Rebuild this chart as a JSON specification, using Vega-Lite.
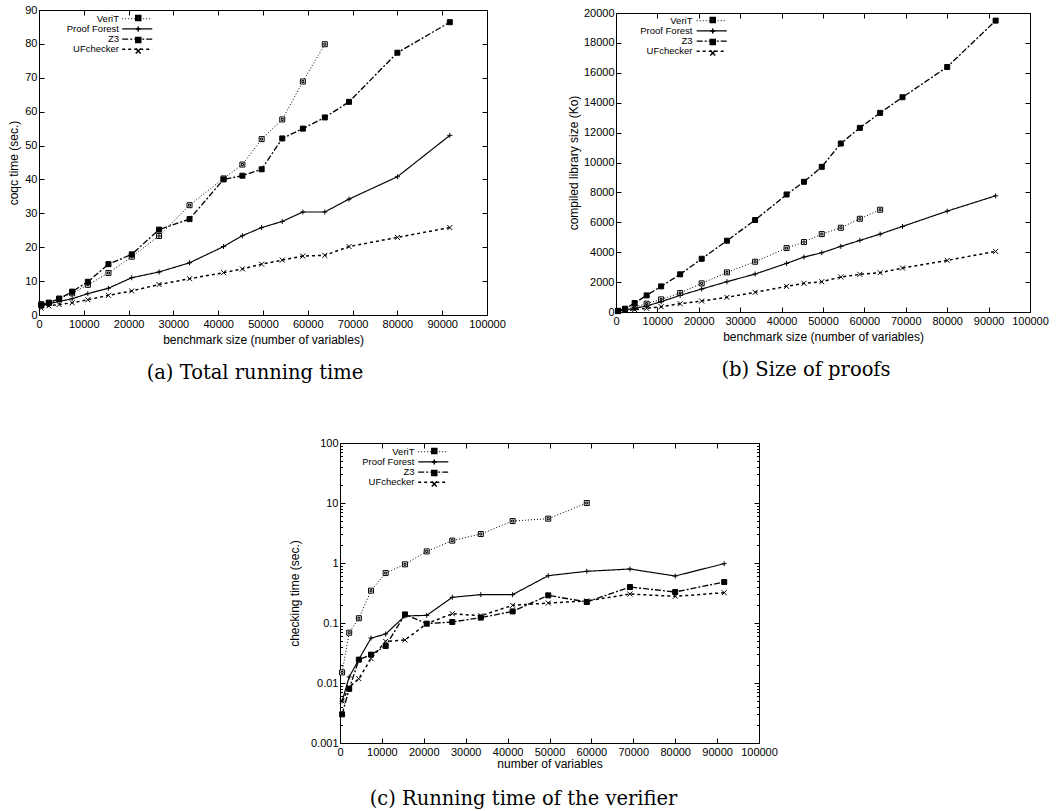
{
"$schema": "https://vega.github.io/schema/vega-lite/v6.json",
"padding": {"left": 7, "top": 3, "right": 0, "bottom": 0},
"background": "white",
"datasets": {
"coqc": [
{"solver":"VeriT","vars":500,"value":3.2},{"solver":"VeriT","vars":2200,"value":3.6},{"solver":"VeriT","vars":4500,"value":4.8},{"solver":"VeriT","vars":7400,"value":6.4},{"solver":"VeriT","vars":10900,"value":8.9},{"solver":"VeriT","vars":15500,"value":12.4},{"solver":"VeriT","vars":20700,"value":17.2},{"solver":"VeriT","vars":26800,"value":23.3},{"solver":"VeriT","vars":33600,"value":32.4},{"solver":"VeriT","vars":41200,"value":40.3},{"solver":"VeriT","vars":45400,"value":44.4},{"solver":"VeriT","vars":49700,"value":51.9},{"solver":"VeriT","vars":54300,"value":57.7},{"solver":"VeriT","vars":58900,"value":68.9},{"solver":"VeriT","vars":63800,"value":79.9},
{"solver":"Proof Forest","vars":500,"value":2.7},{"solver":"Proof Forest","vars":2200,"value":3.3},{"solver":"Proof Forest","vars":4500,"value":4.0},{"solver":"Proof Forest","vars":7400,"value":4.8},{"solver":"Proof Forest","vars":10900,"value":6.3},{"solver":"Proof Forest","vars":15500,"value":7.9},{"solver":"Proof Forest","vars":20700,"value":11.0},{"solver":"Proof Forest","vars":26800,"value":12.7},{"solver":"Proof Forest","vars":33600,"value":15.4},{"solver":"Proof Forest","vars":41200,"value":20.2},{"solver":"Proof Forest","vars":45400,"value":23.4},{"solver":"Proof Forest","vars":49700,"value":25.8},{"solver":"Proof Forest","vars":54300,"value":27.6},{"solver":"Proof Forest","vars":58900,"value":30.4},{"solver":"Proof Forest","vars":63800,"value":30.4},{"solver":"Proof Forest","vars":69200,"value":34.2},{"solver":"Proof Forest","vars":80000,"value":40.8},{"solver":"Proof Forest","vars":91700,"value":53.0},
{"solver":"Z3","vars":500,"value":2.9},{"solver":"Z3","vars":2200,"value":3.6},{"solver":"Z3","vars":4500,"value":4.8},{"solver":"Z3","vars":7400,"value":6.9},{"solver":"Z3","vars":10900,"value":9.8},{"solver":"Z3","vars":15500,"value":15.0},{"solver":"Z3","vars":20700,"value":17.9},{"solver":"Z3","vars":26800,"value":25.2},{"solver":"Z3","vars":33600,"value":28.3},{"solver":"Z3","vars":41200,"value":40.0},{"solver":"Z3","vars":45400,"value":41.1},{"solver":"Z3","vars":49700,"value":43.0},{"solver":"Z3","vars":54300,"value":52.1},{"solver":"Z3","vars":58900,"value":55.0},{"solver":"Z3","vars":63800,"value":58.3},{"solver":"Z3","vars":69200,"value":62.9},{"solver":"Z3","vars":80000,"value":77.4},{"solver":"Z3","vars":91700,"value":86.4},
{"solver":"UFchecker","vars":500,"value":2.0},{"solver":"UFchecker","vars":2200,"value":2.7},{"solver":"UFchecker","vars":4500,"value":3.1},{"solver":"UFchecker","vars":7400,"value":3.6},{"solver":"UFchecker","vars":10900,"value":4.5},{"solver":"UFchecker","vars":15500,"value":5.8},{"solver":"UFchecker","vars":20700,"value":7.1},{"solver":"UFchecker","vars":26800,"value":9.0},{"solver":"UFchecker","vars":33600,"value":10.7},{"solver":"UFchecker","vars":41200,"value":12.5},{"solver":"UFchecker","vars":45400,"value":13.6},{"solver":"UFchecker","vars":49700,"value":15.0},{"solver":"UFchecker","vars":54300,"value":16.2},{"solver":"UFchecker","vars":58900,"value":17.4},{"solver":"UFchecker","vars":63800,"value":17.6},{"solver":"UFchecker","vars":69200,"value":20.2},{"solver":"UFchecker","vars":80000,"value":22.9},{"solver":"UFchecker","vars":91700,"value":25.8}
],
"size": [
{"solver":"VeriT","vars":500,"value":80},{"solver":"VeriT","vars":2200,"value":180},{"solver":"VeriT","vars":4500,"value":330},{"solver":"VeriT","vars":7400,"value":557},{"solver":"VeriT","vars":10900,"value":846},{"solver":"VeriT","vars":15500,"value":1270},{"solver":"VeriT","vars":20700,"value":1915},{"solver":"VeriT","vars":26800,"value":2650},{"solver":"VeriT","vars":33600,"value":3363},{"solver":"VeriT","vars":41200,"value":4276},{"solver":"VeriT","vars":45400,"value":4677},{"solver":"VeriT","vars":49700,"value":5212},{"solver":"VeriT","vars":54300,"value":5635},{"solver":"VeriT","vars":58900,"value":6236},{"solver":"VeriT","vars":63800,"value":6840},
{"solver":"Proof Forest","vars":500,"value":50},{"solver":"Proof Forest","vars":2200,"value":140},{"solver":"Proof Forest","vars":4500,"value":245},{"solver":"Proof Forest","vars":7400,"value":400},{"solver":"Proof Forest","vars":10900,"value":690},{"solver":"Proof Forest","vars":15500,"value":1114},{"solver":"Proof Forest","vars":20700,"value":1537},{"solver":"Proof Forest","vars":26800,"value":2027},{"solver":"Proof Forest","vars":33600,"value":2539},{"solver":"Proof Forest","vars":41200,"value":3252},{"solver":"Proof Forest","vars":45400,"value":3675},{"solver":"Proof Forest","vars":49700,"value":3964},{"solver":"Proof Forest","vars":54300,"value":4388},{"solver":"Proof Forest","vars":58900,"value":4788},{"solver":"Proof Forest","vars":63800,"value":5212},{"solver":"Proof Forest","vars":69200,"value":5724},{"solver":"Proof Forest","vars":80000,"value":6748},{"solver":"Proof Forest","vars":91700,"value":7773},
{"solver":"Z3","vars":500,"value":60},{"solver":"Z3","vars":2200,"value":220},{"solver":"Z3","vars":4500,"value":600},{"solver":"Z3","vars":7400,"value":1110},{"solver":"Z3","vars":10900,"value":1715},{"solver":"Z3","vars":15500,"value":2520},{"solver":"Z3","vars":20700,"value":3560},{"solver":"Z3","vars":26800,"value":4770},{"solver":"Z3","vars":33600,"value":6150},{"solver":"Z3","vars":41200,"value":7860},{"solver":"Z3","vars":45400,"value":8710},{"solver":"Z3","vars":49700,"value":9710},{"solver":"Z3","vars":54300,"value":11270},{"solver":"Z3","vars":58900,"value":12316},{"solver":"Z3","vars":63800,"value":13320},{"solver":"Z3","vars":69200,"value":14365},{"solver":"Z3","vars":80000,"value":16390},{"solver":"Z3","vars":91700,"value":19490},
{"solver":"UFchecker","vars":500,"value":30},{"solver":"UFchecker","vars":2200,"value":80},{"solver":"UFchecker","vars":4500,"value":156},{"solver":"UFchecker","vars":7400,"value":245},{"solver":"UFchecker","vars":10900,"value":356},{"solver":"UFchecker","vars":15500,"value":557},{"solver":"UFchecker","vars":20700,"value":735},{"solver":"UFchecker","vars":26800,"value":980},{"solver":"UFchecker","vars":33600,"value":1314},{"solver":"UFchecker","vars":41200,"value":1715},{"solver":"UFchecker","vars":45400,"value":1915},{"solver":"UFchecker","vars":49700,"value":2027},{"solver":"UFchecker","vars":54300,"value":2338},{"solver":"UFchecker","vars":58900,"value":2517},{"solver":"UFchecker","vars":63800,"value":2628},{"solver":"UFchecker","vars":69200,"value":2940},{"solver":"UFchecker","vars":80000,"value":3452},{"solver":"UFchecker","vars":91700,"value":4053}
],
"check": [
{"solver":"VeriT","vars":500,"value":0.015},{"solver":"VeriT","vars":2200,"value":0.069},{"solver":"VeriT","vars":4500,"value":0.12},{"solver":"VeriT","vars":7400,"value":0.346},{"solver":"VeriT","vars":10900,"value":0.68},{"solver":"VeriT","vars":15500,"value":0.95},{"solver":"VeriT","vars":20700,"value":1.56},{"solver":"VeriT","vars":26800,"value":2.36},{"solver":"VeriT","vars":33600,"value":3.04},{"solver":"VeriT","vars":41200,"value":5.0},{"solver":"VeriT","vars":49700,"value":5.48},{"solver":"VeriT","vars":58900,"value":10.0},
{"solver":"Proof Forest","vars":500,"value":0.005},{"solver":"Proof Forest","vars":2200,"value":0.0126},{"solver":"Proof Forest","vars":4500,"value":0.0248},{"solver":"Proof Forest","vars":7400,"value":0.056},{"solver":"Proof Forest","vars":10900,"value":0.0656},{"solver":"Proof Forest","vars":15500,"value":0.131},{"solver":"Proof Forest","vars":20700,"value":0.134},{"solver":"Proof Forest","vars":26800,"value":0.268},{"solver":"Proof Forest","vars":33600,"value":0.297},{"solver":"Proof Forest","vars":41200,"value":0.297},{"solver":"Proof Forest","vars":49700,"value":0.615},{"solver":"Proof Forest","vars":58900,"value":0.727},{"solver":"Proof Forest","vars":69200,"value":0.794},{"solver":"Proof Forest","vars":80000,"value":0.607},{"solver":"Proof Forest","vars":91700,"value":0.975},
{"solver":"Z3","vars":500,"value":0.003},{"solver":"Z3","vars":2200,"value":0.008},{"solver":"Z3","vars":4500,"value":0.0245},{"solver":"Z3","vars":7400,"value":0.0297},{"solver":"Z3","vars":10900,"value":0.0414},{"solver":"Z3","vars":15500,"value":0.139},{"solver":"Z3","vars":20700,"value":0.0975},{"solver":"Z3","vars":26800,"value":0.104},{"solver":"Z3","vars":33600,"value":0.123},{"solver":"Z3","vars":41200,"value":0.156},{"solver":"Z3","vars":49700,"value":0.289},{"solver":"Z3","vars":58900,"value":0.224},{"solver":"Z3","vars":69200,"value":0.398},{"solver":"Z3","vars":80000,"value":0.329},{"solver":"Z3","vars":91700,"value":0.482},
{"solver":"UFchecker","vars":500,"value":0.005},{"solver":"UFchecker","vars":2200,"value":0.0085},{"solver":"UFchecker","vars":4500,"value":0.0118},{"solver":"UFchecker","vars":7400,"value":0.0255},{"solver":"UFchecker","vars":10900,"value":0.0494},{"solver":"UFchecker","vars":15500,"value":0.052},{"solver":"UFchecker","vars":20700,"value":0.0975},{"solver":"UFchecker","vars":26800,"value":0.143},{"solver":"UFchecker","vars":33600,"value":0.132},{"solver":"UFchecker","vars":41200,"value":0.197},{"solver":"UFchecker","vars":49700,"value":0.215},{"solver":"UFchecker","vars":58900,"value":0.233},{"solver":"UFchecker","vars":69200,"value":0.304},{"solver":"UFchecker","vars":80000,"value":0.278},{"solver":"UFchecker","vars":91700,"value":0.32}
]
},
"vconcat": [
{
"hconcat": [
{
"width": 448, "height": 305,
"data": {"name": "coqc"},
"title": {"text": "(a) Total running time", "dx": -8},
"layer": [
{"mark": {"type": "line", "color": "black"},
"encoding": {
"x": {"field": "vars", "type": "quantitative", "scale": {"domain": [0, 100000], "nice": false, "zero": false},
"axis": {"orient": "bottom", "values": [0,10000,20000,30000,40000,50000,60000,70000,80000,90000,100000], "format": "d", "tickSize": -5, "labelPadding": 8, "title": "benchmark size (number of variables)", "titlePadding": 5}},
"y": {"field": "value", "type": "quantitative", "scale": {"domain": [0, 90], "nice": false},
"axis": {"orient": "left", "values": [0,10,20,30,40,50,60,70,80,90], "tickSize": -5, "labelPadding": 7, "title": "coqc time (sec.)", "titlePadding": 4}},
"strokeDash": {"field": "solver", "type": "nominal", "scale": {"domain": ["VeriT","Proof Forest","Z3","UFchecker"], "range": [[1,2],[1,0],[6,2,2,2],[3,3]]},
"legend": {"orient": "none", "legendX": 93.5, "legendY": 4, "title": null, "symbolType": "M-4.3,0H4.3", "symbolSize": 49, "labelAlign": "right", "labelOffset": -23, "labelFontSize": 9.5, "rowPadding": -0.8, "padding": 0, "encode": {"symbols": {"stroke": {"value": "black"}}}}},
"strokeWidth": {"field": "solver", "type": "ordinal", "scale": {"domain": ["VeriT","Proof Forest","Z3","UFchecker"], "range": [1,1.5,2,1]},
"legend": {"orient": "none", "legendX": 93.5, "legendY": 4, "title": null, "symbolType": "M-4.3,0H4.3", "symbolSize": 49, "labelAlign": "right", "labelOffset": -23, "labelFontSize": 9.5, "rowPadding": -0.8, "padding": 0, "encode": {"symbols": {"stroke": {"value": "black"}}}}}
}},
{"mark": {"type": "point", "size": 25, "stroke": "black", "strokeWidth": 1, "opacity": 1},
"encoding": {
"x": {"field": "vars", "type": "quantitative", "scale": {"domain": [0, 100000], "nice": false, "zero": false},
"axis": {"orient": "top", "values": [0,10000,20000,30000,40000,50000,60000,70000,80000,90000,100000], "labels": false, "tickSize": -5, "title": null}},
"y": {"field": "value", "type": "quantitative", "scale": {"domain": [0, 90], "nice": false},
"axis": {"orient": "right", "values": [0,10,20,30,40,50,60,70,80,90], "labels": false, "tickSize": -5, "title": null}},
"shape": {"field": "solver", "type": "nominal", "scale": {"domain": ["Proof Forest","VeriT","Z3","UFchecker"], "range": ["M-1,0H1M0,-1V1","M-1,-1H1V1H-1ZM-0.4,-0.4H0.4V0.4H-0.4Z","M-1,-1H1V1H-1Z","M-1,-1L1,1M-1,1L1,-1"]},
"legend": {"orient": "none", "legendX": 94.5, "legendY": 3.3, "title": null, "values": ["VeriT","Proof Forest","Z3","UFchecker"], "symbolSize": 25, "labelOpacity": 0, "labelFontSize": 9.5, "rowPadding": -2.2, "padding": 0}},
"fill": {"field": "solver", "type": "nominal", "scale": {"domain": ["Proof Forest","VeriT","Z3","UFchecker"], "range": ["transparent","white","black","transparent"]},
"legend": {"orient": "none", "legendX": 94.5, "legendY": 3.3, "title": null, "values": ["VeriT","Proof Forest","Z3","UFchecker"], "symbolSize": 25, "labelOpacity": 0, "labelFontSize": 9.5, "rowPadding": -2.2, "padding": 0}}
}}
],
"resolve": {"axis": {"x": "independent", "y": "independent"}}
},
{
"width": 414, "height": 299,
"data": {"name": "size"},
"title": {"text": "(b) Size of proofs", "dx": -17},
"layer": [
{"mark": {"type": "line", "color": "black"},
"encoding": {
"x": {"field": "vars", "type": "quantitative", "scale": {"domain": [0, 100000], "nice": false, "zero": false},
"axis": {"orient": "bottom", "values": [0,10000,20000,30000,40000,50000,60000,70000,80000,90000,100000], "format": "d", "tickSize": -5, "labelPadding": 8, "title": "benchmark size (number of variables)", "titlePadding": 5}},
"y": {"field": "value", "type": "quantitative", "scale": {"domain": [0, 20000], "nice": false},
"axis": {"orient": "left", "values": [0,2000,4000,6000,8000,10000,12000,14000,16000,18000,20000], "format": "d", "tickSize": -5, "labelPadding": 7, "title": "compiled library size (Ko)", "titlePadding": 3}},
"strokeDash": {"field": "solver", "type": "nominal", "scale": {"domain": ["VeriT","Proof Forest","Z3","UFchecker"], "range": [[1,2],[1,0],[6,2,2,2],[3,3]]},
"legend": {"orient": "none", "legendX": 91, "legendY": 3, "title": null, "symbolType": "M-4.3,0H4.3", "symbolSize": 49, "labelAlign": "right", "labelOffset": -24, "labelFontSize": 9.5, "rowPadding": -0.8, "padding": 0, "encode": {"symbols": {"stroke": {"value": "black"}}}}},
"strokeWidth": {"field": "solver", "type": "ordinal", "scale": {"domain": ["VeriT","Proof Forest","Z3","UFchecker"], "range": [1,1.5,2,1]},
"legend": {"orient": "none", "legendX": 91, "legendY": 3, "title": null, "symbolType": "M-4.3,0H4.3", "symbolSize": 49, "labelAlign": "right", "labelOffset": -24, "labelFontSize": 9.5, "rowPadding": -0.8, "padding": 0, "encode": {"symbols": {"stroke": {"value": "black"}}}}}
}},
{"mark": {"type": "point", "size": 25, "stroke": "black", "strokeWidth": 1, "opacity": 1},
"encoding": {
"x": {"field": "vars", "type": "quantitative", "scale": {"domain": [0, 100000], "nice": false, "zero": false},
"axis": {"orient": "top", "values": [0,10000,20000,30000,40000,50000,60000,70000,80000,90000,100000], "labels": false, "tickSize": -5, "title": null}},
"y": {"field": "value", "type": "quantitative", "scale": {"domain": [0, 20000], "nice": false},
"axis": {"orient": "right", "values": [0,2000,4000,6000,8000,10000,12000,14000,16000,18000,20000], "labels": false, "tickSize": -5, "title": null}},
"shape": {"field": "solver", "type": "nominal", "scale": {"domain": ["Proof Forest","VeriT","Z3","UFchecker"], "range": ["M-1,0H1M0,-1V1","M-1,-1H1V1H-1ZM-0.4,-0.4H0.4V0.4H-0.4Z","M-1,-1H1V1H-1Z","M-1,-1L1,1M-1,1L1,-1"]},
"legend": {"orient": "none", "legendX": 92, "legendY": 2.3, "title": null, "values": ["VeriT","Proof Forest","Z3","UFchecker"], "symbolSize": 25, "labelOpacity": 0, "labelFontSize": 9.5, "rowPadding": -2.2, "padding": 0}},
"fill": {"field": "solver", "type": "nominal", "scale": {"domain": ["Proof Forest","VeriT","Z3","UFchecker"], "range": ["transparent","white","black","transparent"]},
"legend": {"orient": "none", "legendX": 92, "legendY": 2.3, "title": null, "values": ["VeriT","Proof Forest","Z3","UFchecker"], "symbolSize": 25, "labelOpacity": 0, "labelFontSize": 9.5, "rowPadding": -2.2, "padding": 0}}
}}
],
"resolve": {"axis": {"x": "independent", "y": "independent"}}
}
],
"spacing": 60,
"center": true,
"resolve": {"scale": {"strokeDash": "independent", "strokeWidth": "independent", "shape": "independent", "fill": "independent"}, "legend": {"strokeDash": "independent", "strokeWidth": "independent", "shape": "independent", "fill": "independent"}}
},
{
"hconcat": [
{"width": 248, "height": 10, "data": {"values": []}, "mark": "point", "view": {"stroke": null}},
{
"width": 419, "height": 300,
"data": {"name": "check"},
"title": {"text": "(c) Running time of the verifier", "dx": -26, "offset": 21},
"layer": [
{"mark": {"type": "line", "color": "black"},
"encoding": {
"x": {"field": "vars", "type": "quantitative", "scale": {"domain": [0, 100000], "nice": false, "zero": false},
"axis": {"orient": "bottom", "values": [0,10000,20000,30000,40000,50000,60000,70000,80000,90000,100000], "format": "d", "tickSize": -5, "labelPadding": 8, "title": "number of variables", "titlePadding": 1}},
"y": {"field": "value", "type": "quantitative", "scale": {"type": "log", "domain": [0.001, 100], "nice": false},
"axis": {"orient": "left", "values": [0.001,0.002,0.003,0.004,0.005,0.006,0.007,0.008,0.009,0.01,0.02,0.03,0.04,0.05,0.06,0.07,0.08,0.09,0.1,0.2,0.3,0.4,0.5,0.6,0.7,0.8,0.9,1,2,3,4,5,6,7,8,9,10,20,30,40,50,60,70,80,90,100],
"labelExpr": "abs(log(datum.value)/LN10 - round(log(datum.value)/LN10)) < 0.001 ? format(datum.value, '~g') : ''",
"tickSize": {"condition": {"test": "abs(log(datum.value)/LN10 - round(log(datum.value)/LN10)) < 0.001", "value": -5}, "value": -2.5},
"labelPadding": 7, "title": "checking time (sec.)", "titlePadding": 9}},
"strokeDash": {"field": "solver", "type": "nominal", "scale": {"domain": ["VeriT","Proof Forest","Z3","UFchecker"], "range": [[1,2],[1,0],[6,2,2,2],[3,3]]},
"legend": {"orient": "none", "legendX": 88.5, "legendY": 4, "title": null, "symbolType": "M-4.3,0H4.3", "symbolSize": 49, "labelAlign": "right", "labelOffset": -23.5, "labelFontSize": 9.5, "rowPadding": -0.8, "padding": 0, "encode": {"symbols": {"stroke": {"value": "black"}}}}},
"strokeWidth": {"field": "solver", "type": "ordinal", "scale": {"domain": ["VeriT","Proof Forest","Z3","UFchecker"], "range": [1,1.5,2,1]},
"legend": {"orient": "none", "legendX": 88.5, "legendY": 4, "title": null, "symbolType": "M-4.3,0H4.3", "symbolSize": 49, "labelAlign": "right", "labelOffset": -23.5, "labelFontSize": 9.5, "rowPadding": -0.8, "padding": 0, "encode": {"symbols": {"stroke": {"value": "black"}}}}}
}},
{"mark": {"type": "point", "size": 25, "stroke": "black", "strokeWidth": 1, "opacity": 1},
"encoding": {
"x": {"field": "vars", "type": "quantitative", "scale": {"domain": [0, 100000], "nice": false, "zero": false},
"axis": {"orient": "top", "values": [0,10000,20000,30000,40000,50000,60000,70000,80000,90000,100000], "labels": false, "tickSize": -5, "title": null}},
"y": {"field": "value", "type": "quantitative", "scale": {"type": "log", "domain": [0.001, 100], "nice": false},
"axis": {"orient": "right", "values": [0.001,0.002,0.003,0.004,0.005,0.006,0.007,0.008,0.009,0.01,0.02,0.03,0.04,0.05,0.06,0.07,0.08,0.09,0.1,0.2,0.3,0.4,0.5,0.6,0.7,0.8,0.9,1,2,3,4,5,6,7,8,9,10,20,30,40,50,60,70,80,90,100],
"labels": false,
"tickSize": {"condition": {"test": "abs(log(datum.value)/LN10 - round(log(datum.value)/LN10)) < 0.001", "value": -5}, "value": -2.5},
"title": null}},
"shape": {"field": "solver", "type": "nominal", "scale": {"domain": ["Proof Forest","VeriT","Z3","UFchecker"], "range": ["M-1,0H1M0,-1V1","M-1,-1H1V1H-1ZM-0.4,-0.4H0.4V0.4H-0.4Z","M-1,-1H1V1H-1Z","M-1,-1L1,1M-1,1L1,-1"]},
"legend": {"orient": "none", "legendX": 89.5, "legendY": 3.3, "title": null, "values": ["VeriT","Proof Forest","Z3","UFchecker"], "symbolSize": 25, "labelOpacity": 0, "labelFontSize": 9.5, "rowPadding": -2.2, "padding": 0}},
"fill": {"field": "solver", "type": "nominal", "scale": {"domain": ["Proof Forest","VeriT","Z3","UFchecker"], "range": ["transparent","white","black","transparent"]},
"legend": {"orient": "none", "legendX": 89.5, "legendY": 3.3, "title": null, "values": ["VeriT","Proof Forest","Z3","UFchecker"], "symbolSize": 25, "labelOpacity": 0, "labelFontSize": 9.5, "rowPadding": -2.2, "padding": 0}}
}}
],
"resolve": {"axis": {"x": "independent", "y": "independent"}}
}
],
"spacing": 0,
"resolve": {"scale": {"strokeDash": "independent", "strokeWidth": "independent", "shape": "independent", "fill": "independent"}, "legend": {"strokeDash": "independent", "strokeWidth": "independent", "shape": "independent", "fill": "independent"}}
}
],
"spacing": 53,
"resolve": {"scale": {"strokeDash": "independent", "strokeWidth": "independent", "shape": "independent", "fill": "independent"}, "legend": {"strokeDash": "independent", "strokeWidth": "independent", "shape": "independent", "fill": "independent"}},
"config": {
"view": {"stroke": "black", "strokeWidth": 1},
"axis": {"labelFont": "Liberation Sans", "labelFontSize": 11, "labelColor": "black", "titleFont": "Liberation Sans", "titleFontSize": 12, "titleFontWeight": "normal", "titleColor": "black", "tickColor": "black", "tickWidth": 1, "grid": false, "domain": false, "labelOverlap": false, "labelFlush": false},
"legend": {"labelFont": "Liberation Sans", "labelColor": "black"},
"title": {"font": "DejaVu Serif", "fontSize": 19.5, "fontWeight": "normal", "color": "black", "orient": "bottom", "frame": "group", "anchor": "middle", "offset": 19}
}
}
